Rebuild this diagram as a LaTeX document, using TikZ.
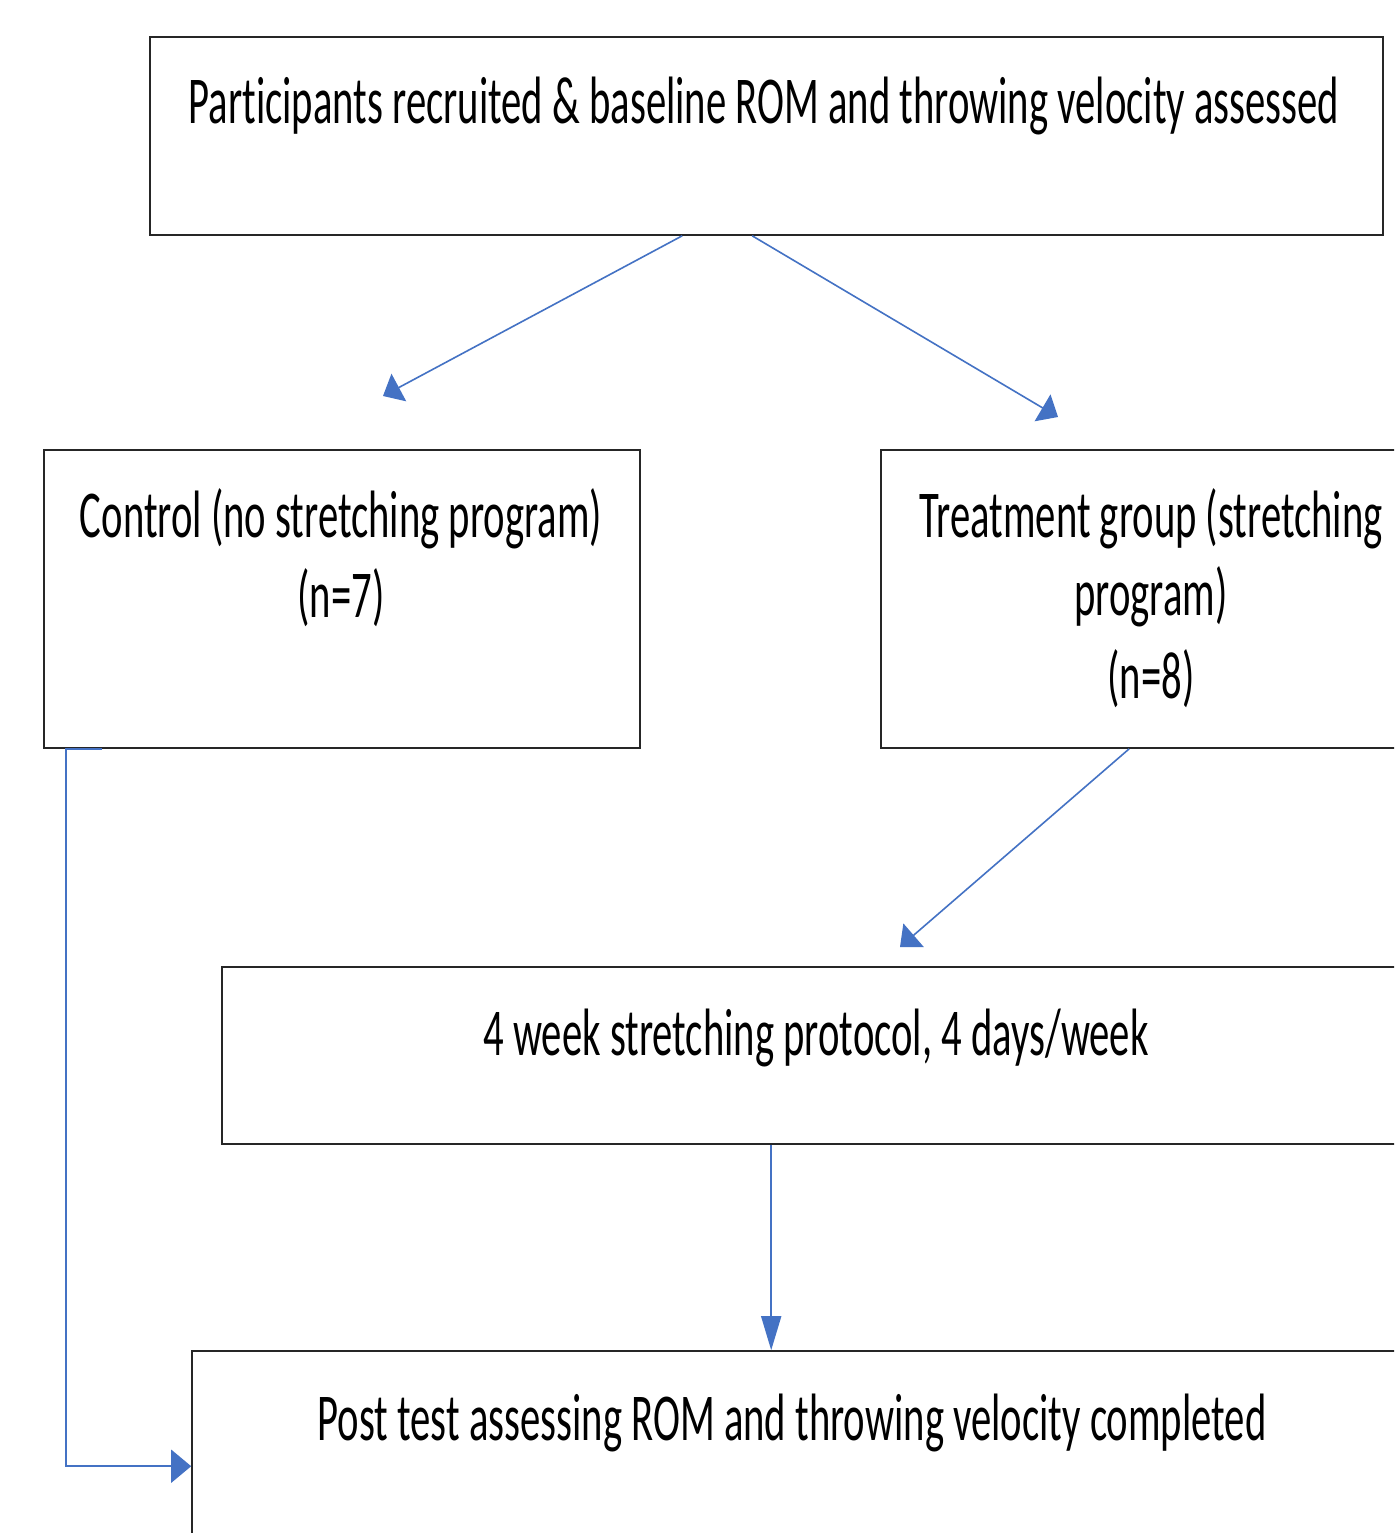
\documentclass[tikz,border=0pt]{standalone}
\usepackage{fontspec}
\setmainfont{Carlito}[FakeStretch=0.607,Ligatures={NoCommon}]
\usetikzlibrary{arrows.meta,fit,calc}
\definecolor{arrblue}{HTML}{4472C4}
\begin{document}
\begin{tikzpicture}[x=0.5pt,y=-0.5pt,
  box/.style={draw=black!85,line width=0.8pt,inner sep=0pt},
  lbl/.style={anchor=base,inner sep=0pt,font=\fontsize{33.5pt}{41pt}\selectfont},
  conn/.style={draw=arrblue,line width=0.8pt},
  tipdiag/.style={-{Triangle[length=9pt,width=15.5pt]}},
  tipdown/.style={-{Triangle[length=17pt,width=10pt]}},
  tipright/.style={-{Triangle[length=10pt,width=16.5pt]}}]
\useasboundingbox (0,0) rectangle (1394,1533);
\clip (0,0) rectangle (1394,1533);
\fill[white] (0,0) rectangle (1394,1533);
% boxes
\node[box,fit={(150,37) (1383,235)}] (top) {};
\node[box,fit={(44,450) (640,748)}] (ctl) {};
\node[box,fit={(881,450) (1460,748)}] (trt) {};
\node[box,fit={(222,967) (1460,1144)}] (str) {};
\node[box,fit={(192,1351) (1460,1620)}] (post) {};
% texts
\node[lbl] (ttop) at (764,123) {Participants recruited \& baseline ROM and throwing velocity assessed};
\node[lbl] (tc1) at (341,537) {Control (no stretching program)};
\node[lbl] (tc2) at (341,617) {(n=7)};
\node[lbl] (tt1) at (1151,537) {Treatment group (stretching};
\node[lbl] (tt2) at (1151,615) {program)};
\node[lbl] (tt3) at (1151,698) {(n=8)};
\node[lbl] (ts) at (816,1055) {4 week stretching protocol, 4 days/week};
\node[lbl] (tp) at (792,1440) {Post test assessing ROM and throwing velocity completed};
% free arrow ends
\coordinate (e1) at (383,396);
\coordinate (e2) at (1058,417);
\coordinate (e3) at (900,947);
% connectors
\draw[conn,tipdiag] ([xshift=266.5pt]top.south west) -- (e1);
\draw[conn,tipdiag] ([xshift=301.5pt]top.south west) -- (e2);
\draw[conn,tipdiag] ([xshift=124.5pt]trt.south west) -- (e3);
\coordinate (sp) at ([xshift=275pt]str.south west);
\draw[conn,tipdown] (sp) -- (sp |- post.north);
\draw[conn,tipright] ([xshift=29.5pt]ctl.south west) -- ([xshift=11.5pt]ctl.south west) |- ([yshift=-58pt]post.north west);
\end{tikzpicture}
\end{document}
